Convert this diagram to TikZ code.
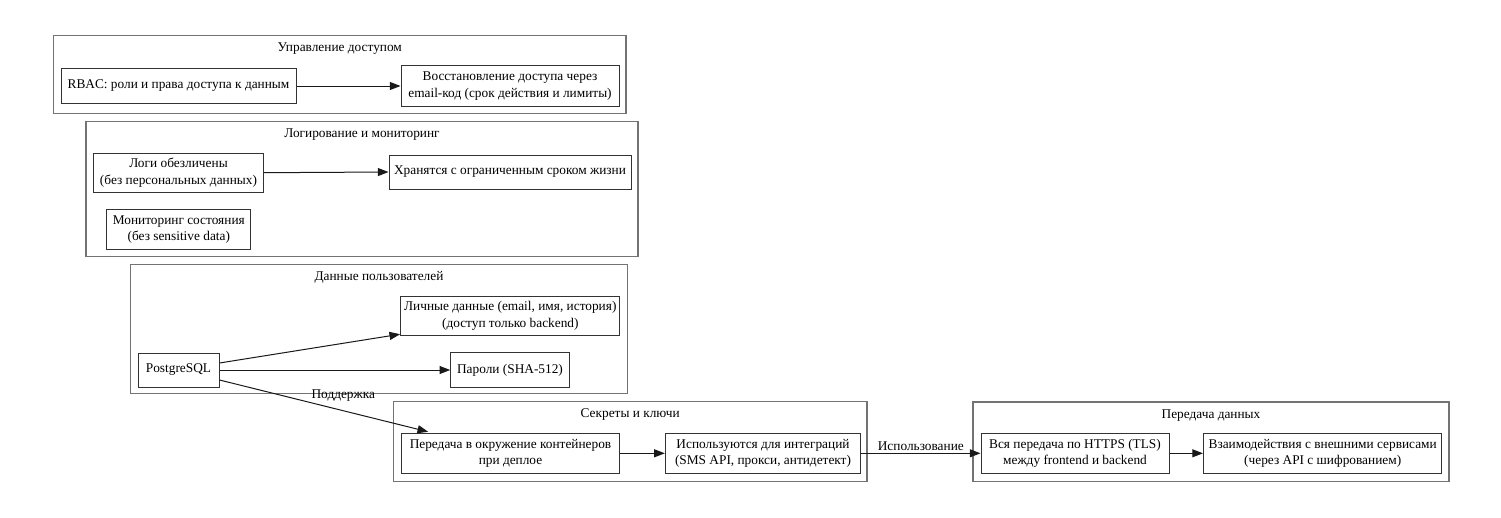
\documentclass[tikz,border=0pt]{standalone}
\usepackage{fontspec}
\setmainfont{Liberation Serif}
\usetikzlibrary{arrows.meta,calc}

% box given by centre, width and height (in px units)
\newcommand\boxat[6]{\node[nbox,minimum width=#4*0.75pt,minimum height=#5*0.75pt] (#1) at (#2,#3) {#6};}
\newcommand\clusterat[7]{%
  \node[cbox,minimum width=#4*0.75pt,minimum height=#5*0.75pt] (#1) at (#2,#3) {};
  \node[ctitle] (#6) at ($(#1.north)+(0,14)$) {#7};}

\tikzset{
  txt/.style={font=\fontsize{10pt}{12.5pt}\selectfont},
  nbox/.style={txt,draw=black!80,line width=0.75pt,inner sep=0pt,align=center},
  cbox/.style={draw=black!55,line width=1.1pt,inner sep=0pt},
  ctitle/.style={txt,inner sep=0pt},
  elabel/.style={txt,inner sep=0pt},
  conn/.style={draw=black!90,line width=0.75pt,
    -{Triangle[length=8pt,width=6pt]}},
}

\begin{document}
\begin{tikzpicture}[x=0.75pt,y=-0.75pt]
\useasboundingbox[fill=white] (0,0) rectangle (1501,517);

% clusters
\clusterat{c1}{339.8}{74.5}{572.5}{78.4}{t1}{Управление доступом}
\clusterat{c2}{362}{189.2}{552}{135}{t2}{Логирование и мониторинг}
\clusterat{c3}{379}{328.8}{496.6}{129}{t3}{Данные пользователей}
\clusterat{c4}{630.2}{441.7}{473.7}{80}{t4}{Секреты и ключи}
\clusterat{c5}{1211}{441.8}{476}{79.7}{t5}{Передача данных}

% nodes
\boxat{rbac}{178.5}{86}{235}{34}{RBAC: роли и права доступа к данным}
\boxat{rest}{510}{86}{218}{40}{Восстановление доступа через\\email-код (срок действия и лимиты)}
\boxat{logs}{178.5}{172.7}{170.4}{39}{Логи обезличены\\(без персональных данных)}
\boxat{store}{510}{172}{242}{34}{Хранятся с ограниченным сроком жизни}
\boxat{mon}{178.8}{229.6}{144.3}{39.3}{Мониторинг состояния\\(без sensitive data)}
\boxat{pd}{510.3}{316}{219.3}{39.4}{Личные данные (email, имя, история)\\(доступ только backend)}
\boxat{pg}{178.5}{370}{81}{34}{PostgreSQL}
\boxat{pw}{510}{370}{118.6}{34.6}{Пароли (SHA-512)}
\boxat{env}{510.5}{453.3}{217.6}{40}{Передача в окружение контейнеров\\при деплое}
\boxat{use}{763}{453.3}{195.4}{40}{Используются для интеграций\\(SMS API, прокси, антидетект)}
\boxat{all}{1075}{453.3}{188}{40}{Вся передача по HTTPS (TLS)\\между frontend и backend}
\boxat{ext}{1322.7}{453.3}{238.5}{40}{Взаимодействия с внешними сервисами\\(через API с шифрованием)}

% connectors
\draw[conn] (rbac.east) -- (rest.west |- rbac.east);
\draw[conn] (logs.east) -- (store.west);
\draw[conn] ($(pg.east)+(0,-7)$) -- ($(pd.south west)+(0,-2)$);
\draw[conn] (pg.east) -- (pw.west);
\draw[conn] ($(pg.east)+(0,10)$) -- ($(env.north west)+(27,-1)$)
  node[elabel,pos=0.5,xshift=14.6pt,yshift=7.5pt] (lsup) {Поддержка};
\draw[conn] (env.east) -- (use.west);
\draw[conn] (use.east) -- (all.west)
  node[elabel,midway,above=2pt] (luse) {Использование};
\draw[conn] (all.east) -- (ext.west);
\end{tikzpicture}
\end{document}
